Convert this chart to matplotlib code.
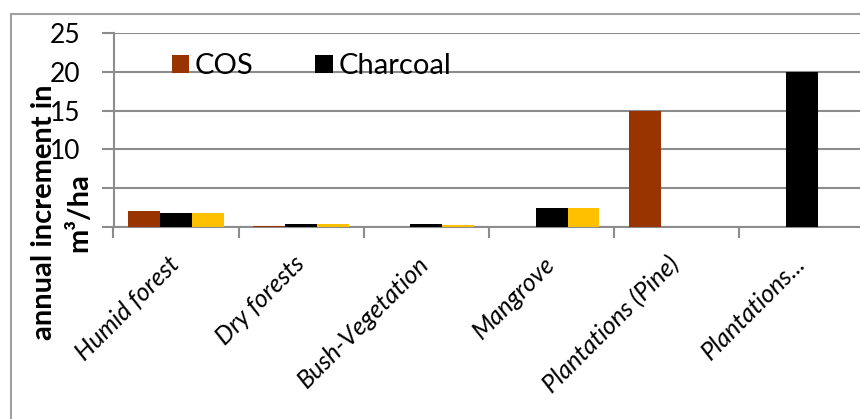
import matplotlib.pyplot as plt
import numpy as np
from matplotlib.patches import Rectangle
from matplotlib.transforms import ScaledTranslation

plt.rcParams['font.family'] = ['Lato', 'DejaVu Sans']

# data
categories = ['Humid forest', 'Dry forests', 'Bush-Vegetation', 'Mangrove',
              'Plantations (Pine)', 'Plantations...']
cos = [2.0, 0.15, 0, 0, 15, 0]
charcoal = [1.8, 0.35, 0.35, 2.4, 0, 20]
other = [1.8, 0.35, 0.3, 2.4, 0, 0]
yticks = [0, 5, 10, 15, 20, 25]

W, H = 860, 419
fig = plt.figure(figsize=(W / 100, H / 100), dpi=100)
# plot area runs off the right edge like the original screenshot
ax = fig.add_axes([113.5 / W, (H - 227) / H, 751 / W, 194 / H])

x = np.arange(len(categories))
bw = 0.255
grid_c = '#8c8c8c'
ax.bar(x - bw, cos, bw, color='#993300', label='COS', zorder=3)
ax.bar(x, charcoal, bw, color='#000000', label='Charcoal', zorder=3)
ax.bar(x + bw, other, bw, color='#FFC000', zorder=3)

ax.set_xlim(-0.5, len(categories) - 0.5)
ax.set_ylim(0, 25)
ax.set_yticks(yticks)
ax.yaxis.grid(True, color=grid_c, lw=1.5, zorder=0)
ax.tick_params(axis='y', length=9, width=1.5, color=grid_c, labelsize=19, pad=15)

# ticks between categories, labels at centres
ax.set_xticks(np.arange(len(categories) + 1) - 0.5)
ax.set_xticklabels([])
ax.set_xticks(x, minor=True)
ax.set_xticklabels(categories, minor=True, rotation=45, ha='right',
                   rotation_mode='anchor', style='italic', fontsize=18)
ax.tick_params(axis='x', which='major', length=8, width=1.5, color=grid_c)
ax.tick_params(axis='x', which='minor', length=0, pad=18)
shift = ScaledTranslation(-0.09, 0, fig.dpi_scale_trans)
for lab in ax.get_xticklabels(minor=True):
    lab.set_transform(lab.get_transform() + shift)

for s in ['top', 'right']:
    ax.spines[s].set_visible(False)
for s in ['left', 'bottom']:
    ax.spines[s].set_color(grid_c)
    ax.spines[s].set_linewidth(1.5)

# axis title, two lines; the second one sits over the 0 and 5 labels
fig.text(44 / W, (H - 212) / H, 'annual increment in', rotation=90,
         fontsize=21, fontweight='bold', ha='center', va='center')
fig.text(79 / W, (H - 213) / H, 'm\u00b3/ha', rotation=90,
         fontsize=21, fontweight='bold', ha='center', va='center',
         bbox=dict(fc='white', ec='none', pad=1))

ax.legend(loc='upper left', bbox_to_anchor=(0.062, 0.955), ncol=2, frameon=False,
          fontsize=21, handlelength=0.6, handleheight=0.6, handletextpad=0.2,
          columnspacing=2.1, borderaxespad=0)

# outer chart border
fig.patches.append(Rectangle((11 / W, -0.1), 1.1, (H - 14) / H + 0.1,
                             transform=fig.transFigure, fill=False,
                             ec='#a0a0a0', lw=1.5))

plt.savefig('out.png', dpi=100)
